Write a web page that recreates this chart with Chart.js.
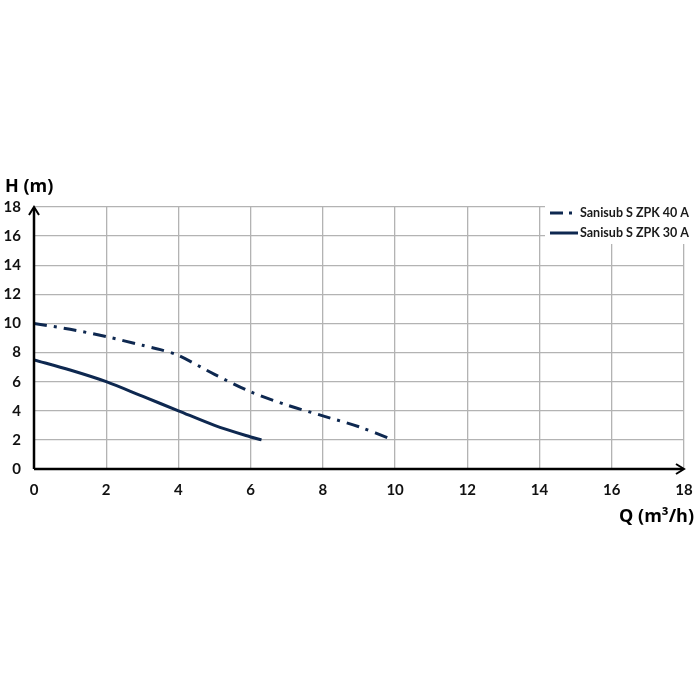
<!DOCTYPE html>
<html>
<head>
<meta charset="utf-8">
<script src="https://cdn.jsdelivr.net/npm/chart.js@4/dist/chart.umd.min.js"></script>
<style>
  html, body { margin: 0; padding: 0; background: #fff; }
  #wrap { width: 700px; height: 700px; }
</style>
</head>
<body>
<div id="wrap"><canvas id="chart-pump"></canvas></div>
<script>
const LABEL_40 = 'Sanisub S ZPK 40 A';
const LABEL_30 = 'Sanisub S ZPK 30 A';
const Q_40 = [0, 1, 2, 3, 3.5, 4, 5, 6, 7, 8, 9, 9.9];
const H_40 = [10, 9.6, 9.1, 8.5, 8.2, 7.8, 6.5, 5.3, 4.4, 3.65, 2.9, 2.05];
const Q_30 = [0, 1, 2, 3, 4, 5, 6, 6.3];
const H_30 = [7.5, 6.8, 6.0, 5.0, 4.0, 3.0, 2.2, 2.0];
const X_TICKS = [0, 2, 4, 6, 8, 10, 12, 14, 16, 18];
const Y_TICKS = [0, 2, 4, 6, 8, 10, 12, 14, 16, 18];

const NAVY = '#0e2850';
const FONT = 'Lato, "Open Sans", sans-serif';
const TITLE_FONT = '"Open Sans", Lato, sans-serif';

const toPoints = (xs, ys) => xs.map((x, i) => ({ x, y: ys[i] }));

const axisArrows = {
  id: 'axis-arrows',
  afterDatasetsDraw(chart) {
    const { ctx, chartArea, scales } = chart;
    const x0 = scales.x.getPixelForValue(0);
    const y0 = scales.y.getPixelForValue(0);
    ctx.save();
    ctx.strokeStyle = '#000';
    ctx.fillStyle = '#000';
    ctx.lineWidth = 2.5;
    ctx.beginPath();
    ctx.moveTo(x0, y0); ctx.lineTo(x0, chartArea.top + 1);
    ctx.moveTo(x0, y0); ctx.lineTo(chartArea.right - 1, y0);
    ctx.stroke();
    // arrowheads
    ctx.lineWidth = 2;
    ctx.beginPath();
    ctx.moveTo(x0 - 5, chartArea.top + 8); ctx.lineTo(x0, chartArea.top); ctx.lineTo(x0 + 5, chartArea.top + 8);
    ctx.moveTo(chartArea.right - 8, y0 - 5); ctx.lineTo(chartArea.right, y0); ctx.lineTo(chartArea.right - 8, y0 + 5);
    ctx.stroke();

    // axis titles
    ctx.font = `bold 18px ${TITLE_FONT}`;
    ctx.textBaseline = 'alphabetic';
    ctx.textAlign = 'left';
    ctx.fillText('H (m)', 5, 192);
    ctx.textAlign = 'right';
    ctx.fillText('Q (m³/h)', 694, 522);

    // legend box over the grid
    ctx.fillStyle = '#fff';
    ctx.fillRect(545, 200, 155, 44);
    const rows = [
      { label: chart.data.datasets[0].label, dash: [13, 6, 3, 6], y: 213 },
      { label: chart.data.datasets[1].label, dash: [], y: 233 },
    ];
    rows.forEach(r => {
      ctx.strokeStyle = NAVY;
      ctx.lineWidth = 3;
      ctx.setLineDash(r.dash);
      ctx.beginPath(); ctx.moveTo(550, r.y); ctx.lineTo(r.dash.length ? 577 : 578, r.y); ctx.stroke();
      ctx.setLineDash([]);
      ctx.fillStyle = '#1a1a1a';
      ctx.font = `bold 12.5px ${FONT}`;
      ctx.textAlign = 'left';
      ctx.textBaseline = 'middle';
      ctx.fillText(r.label, 580, r.y);
    });
    ctx.restore();
  },
};

new Chart(document.getElementById('chart-pump').getContext('2d'), {
  type: 'scatter',
  data: {
    datasets: [
      {
        label: LABEL_40,
        data: toPoints(Q_40, H_40),
        showLine: true,
        borderColor: NAVY,
        borderWidth: 3,
        borderDash: [13, 7, 3, 7],
        tension: 0.3,
        pointRadius: 0,
      },
      {
        label: LABEL_30,
        data: toPoints(Q_30, H_30),
        showLine: true,
        borderColor: NAVY,
        borderWidth: 3,
        tension: 0.3,
        pointRadius: 0,
      },
    ],
  },
  options: {
    responsive: true,
    maintainAspectRatio: false,
    animation: false,
    layout: { padding: { top: 207, right: 16, bottom: 201, left: 0 } },
    plugins: { legend: { display: false }, tooltip: { enabled: false } },
    scales: {
      x: {
        type: 'linear',
        min: 0, max: 18,
        afterBuildTicks: s => { s.ticks = X_TICKS.map(v => ({ value: v })); },
        afterFit: s => { s.height = 30; s.paddingLeft = 0; s.paddingRight = 0; },
        border: { display: false },
        grid: { color: '#b3b3b3', lineWidth: 1.3, drawTicks: false },
        ticks: { padding: 12, color: '#111', font: { family: FONT, size: 15, weight: 'bold' } },
      },
      y: {
        min: 0, max: 18,
        afterBuildTicks: s => { s.ticks = Y_TICKS.map(v => ({ value: v })); },
        afterFit: s => { s.width = 34; s.paddingTop = 0; s.paddingBottom = 0; },
        border: { display: false },
        grid: { color: '#b3b3b3', lineWidth: 1.3, drawTicks: false },
        ticks: { padding: 13, color: '#111', font: { family: FONT, size: 15, weight: 'bold' } },
      },
    },
  },
  plugins: [axisArrows],
});
</script>
</body>
</html>
